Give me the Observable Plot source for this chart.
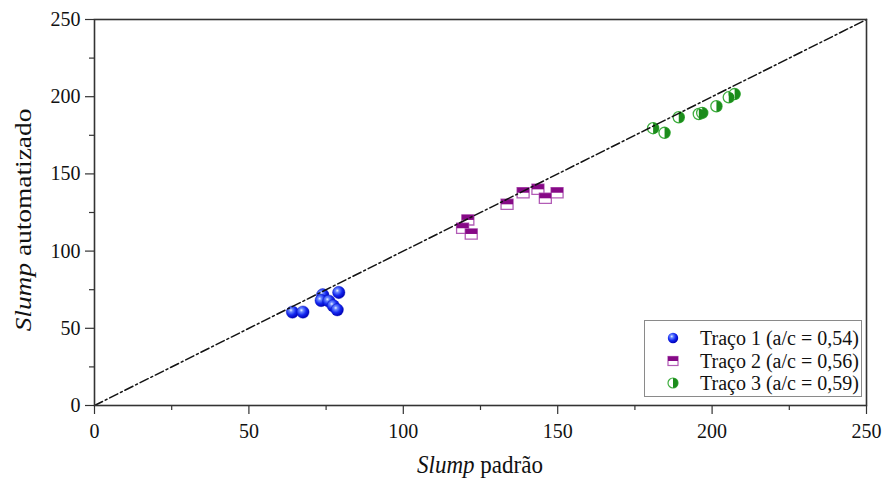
<!DOCTYPE html>
<html><head><meta charset="utf-8">
<script src="https://cdn.jsdelivr.net/npm/d3@7"></script>
<script src="https://cdn.jsdelivr.net/npm/@observablehq/plot@0.6"></script>
<style>
body{margin:0;background:#fff;}
#wrap{position:relative;width:885px;height:481px;font-family:"Times New Roman","Liberation Serif","DejaVu Serif",serif;color:#111;}
#legend{position:absolute;left:644px;top:320px;width:216px;height:75px;border:1px solid #8a8a8a;background:#fff;font-size:20px;}
.row{position:absolute;left:0;height:22px;line-height:22px;white-space:nowrap;}
.row svg{position:absolute;left:20px;top:3px;}
.row span{position:absolute;left:55px;top:0;}
.xlab{position:absolute;left:480px;top:465px;font-size:23px;white-space:nowrap;transform:translate(-50%,-50%) scaleY(1.1);}
.ylab{position:absolute;left:24px;top:220px;font-size:23px;transform:translate(-50%,-50%) rotate(-90deg) scaleX(1.19);white-space:nowrap;}
</style></head><body><div id="wrap"></div>
<script>
const series = ["Traço 1 (a/c = 0,54)", "Traço 2 (a/c = 0,56)", "Traço 3 (a/c = 0,59)"];
const t1x = [64.1, 67.5, 73.9, 73.4, 75.9, 77.3, 78.6, 79.1];
const t1y = [60.5, 60.5, 71.7, 68.0, 67.6, 64.6, 62.0, 73.2];
const t2x = [120.9, 119.2, 122.0, 133.6, 138.8, 143.6, 146.0, 149.8];
const t2y = [120.2, 114.8, 111.1, 130.3, 137.8, 140.0, 134.2, 137.8];
const t3x = [180.9, 184.6, 189.2, 195.7, 196.8, 201.4, 205.4, 207.3];
const t3y = [179.6, 176.6, 186.7, 188.8, 189.5, 193.8, 199.6, 201.7];
const majorTicks = [0, 50, 100, 150, 200, 250];
const minorTicks = [25, 75, 125, 175, 225];
const diagonal = [0, 250];
const xLabel = "padrão", yLabel = "automatizado", italicWord = "Slump";

const toRows = (xs, ys, s) => xs.map((x, i) => ({x, y: ys[i], s}));
const s1 = toRows(t1x, t1y, series[0]);
const s2 = toRows(t2x, t2y, series[1]);
const s3 = toRows(t3x, t3y, series[2]);

const rectFull = {draw(ctx, size){const a = Math.sqrt(size/Math.PI); ctx.rect(-a, -a*0.85, 2*a, 1.7*a);}};
const rectTop = {draw(ctx, size){const a = Math.sqrt(size/Math.PI); ctx.rect(-a, -a*0.85, 2*a, 0.85*a);}};
const halfRight = {draw(ctx, size){const r = Math.sqrt(size/Math.PI); ctx.moveTo(0, -r); ctx.arc(0, 0, r, -Math.PI/2, Math.PI/2); ctx.closePath();}};

const purple = "#860986", purpleLight = "#b25cb6", green = "#1b8c1b", greenLight = "#3fae3f";
const serifFamily = "'Times New Roman', 'Liberation Serif', 'DejaVu Serif', serif";

const svg = Plot.plot({
  width: 885, height: 481,
  marginLeft: 94, marginRight: 19, marginTop: 19, marginBottom: 76,
  style: {fontFamily: serifFamily, fontSize: "20px", color: "#111", background: "#fff"},
  x: {domain: [0, 250]},
  y: {domain: [0, 250]},
  marks: [
    Plot.axisX(minorTicks, {tickSize: 5, tickFormat: () => "", label: null, stroke: "#333", strokeWidth: 1.2}),
    Plot.axisY(minorTicks, {tickSize: 5, tickFormat: () => "", label: null, stroke: "#333", strokeWidth: 1.2}),
    Plot.axisX(majorTicks, {tickSize: 9, tickPadding: 9, fontSize: 20, label: null, stroke: "#333", strokeWidth: 1.2}),
    Plot.axisY(majorTicks, {tickSize: 9, tickPadding: 5, fontSize: 20, label: null, stroke: "#333", strokeWidth: 1.2}),
    Plot.dot(s1, {x: "x", y: "y", r: 6.2, fill: "url(#ball)", stroke: "#0010b0", strokeWidth: 0.4}),
    Plot.dot(s2, {x: "x", y: "y", r: 6, symbol: rectFull, fill: "white", stroke: purpleLight, strokeWidth: 1.3}),
    Plot.dot(s2, {x: "x", y: "y", r: 6, symbol: rectTop, fill: purple}),
    Plot.dot(s3, {x: "x", y: "y", r: 5.6, fill: "white", stroke: greenLight, strokeWidth: 1.3}),
    Plot.dot(s3, {x: "x", y: "y", r: 5.6, symbol: halfRight, fill: green}),
    Plot.line(diagonal, {x: d => d, y: d => d, stroke: "#111", strokeWidth: 1.5, strokeDasharray: "9,3,2,3"}),
    Plot.frame({stroke: "#333", strokeWidth: 1.6})
  ]
});

d3.select(svg).insert("defs", ":first-child").html(
  `<radialGradient id="ball" cx="0.38" cy="0.35" r="0.65">
     <stop offset="0" stop-color="#eef4ff"/>
     <stop offset="0.22" stop-color="#6a88ff"/>
     <stop offset="0.6" stop-color="#1428f0"/>
     <stop offset="1" stop-color="#0000b8"/>
   </radialGradient>`);

const wrap = document.getElementById("wrap");
wrap.appendChild(svg);

const xl = document.createElement("div");
xl.className = "xlab";
xl.innerHTML = `<i>${italicWord}</i> ${xLabel}`;
wrap.appendChild(xl);
const yl = document.createElement("div");
yl.className = "ylab";
yl.innerHTML = `<i>${italicWord}</i> ${yLabel}`;
wrap.appendChild(yl);

// legend
const legend = document.createElement("div");
legend.id = "legend";
const symbols = [
  `<defs><radialGradient id="ballL" cx="0.38" cy="0.35" r="0.65"><stop offset="0" stop-color="#eef4ff"/><stop offset="0.22" stop-color="#6a88ff"/><stop offset="0.6" stop-color="#1428f0"/><stop offset="1" stop-color="#0000b8"/></radialGradient></defs><circle cx="8" cy="8" r="5.2" fill="url(#ballL)"/>`,
  `<rect x="3" y="3.5" width="10" height="9" fill="white" stroke="${purpleLight}" stroke-width="1.2"/><rect x="3" y="3.5" width="10" height="4.5" fill="${purple}"/>`,
  `<circle cx="8" cy="8" r="5" fill="white" stroke="${greenLight}" stroke-width="1.2"/><path d="M8,3 A5,5 0 0 1 8,13 Z" fill="${green}"/>`
];
series.forEach((s, i) => {
  const row = document.createElement("div");
  row.className = "row";
  row.style.top = (6 + i * 22.5) + "px";
  row.innerHTML = `<svg width="16" height="16">${symbols[i]}</svg><span>${s}</span>`;
  legend.appendChild(row);
});
wrap.appendChild(legend);
</script></body></html>
